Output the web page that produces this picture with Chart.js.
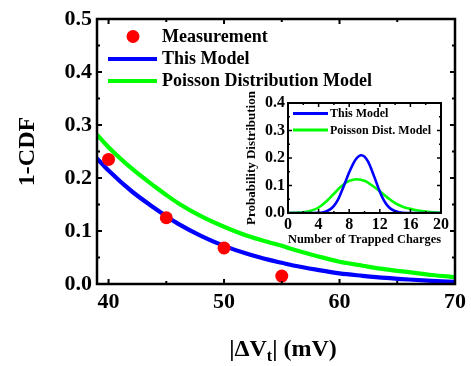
<!DOCTYPE html>
<html><head><meta charset="utf-8">
<script src="https://cdn.jsdelivr.net/npm/chart.js@4.4.0/dist/chart.umd.min.js"></script>
<style>
html,body{margin:0;padding:0;background:#fff;}
#wrap{position:relative;width:471px;height:366px;background:#fff;}
#wrap canvas{position:absolute;left:0;top:0;}
</style></head><body>
<div id="wrap"><canvas id="main" width="471" height="366"></canvas><canvas id="inset" width="471" height="366"></canvas></div>
<script>
// ---- main chart data ----
const measX = [40, 45, 50, 55];
const measY = [0.235, 0.125, 0.068, 0.015];
const modelX = [39, 40, 42, 44, 45, 46, 48, 50, 52, 54, 55, 56, 58, 60, 62, 64, 66, 68, 70];
const thisModelY = [0.237, 0.214, 0.175, 0.143, 0.128, 0.114, 0.091, 0.072, 0.057, 0.045, 0.040, 0.035, 0.027, 0.020, 0.0155, 0.0115, 0.0085, 0.006, 0.004];
const poissonY = [0.282, 0.258, 0.218, 0.184, 0.168, 0.153, 0.128, 0.108, 0.091, 0.078, 0.072, 0.065, 0.053, 0.042, 0.0345, 0.0275, 0.0225, 0.017, 0.013];
const mainXTicks = [40, 50, 60, 70];
const mainXMinor = [45, 55, 65];
const mainYTicks = [0, 0.1, 0.2, 0.3, 0.4, 0.5];
const mainYMinor = [0.05, 0.15, 0.25, 0.35, 0.45];
const seriesLabels = ['Measurement', 'This Model', 'Poisson Distribution Model'];
const xTitleParts = ['|\u0394V', 't', '| (mV)'];
const yTitle = '1-CDF';

// ---- inset data ----
const thisDistX = [0, 3, 4, 4.5, 5, 5.5, 6, 6.5, 7, 7.5, 8, 8.5, 9, 9.5, 10, 10.5, 11, 11.5, 12, 12.5, 13, 13.5, 14, 14.5, 15, 16, 20];
const thisDistY = [0, 0, 0.001, 0.002, 0.006, 0.013, 0.026, 0.047, 0.078, 0.113, 0.148, 0.178, 0.200, 0.210, 0.205, 0.185, 0.152, 0.115, 0.078, 0.048, 0.027, 0.014, 0.007, 0.003, 0.001, 0, 0];
const poissonDistX = [0, 1, 2, 3, 4, 5, 6, 7, 8, 9, 10, 11, 12, 13, 14, 15, 16, 17, 18, 19, 20];
const poissonDistY = [0, 0.001, 0.003, 0.008, 0.020, 0.042, 0.070, 0.098, 0.117, 0.123, 0.117, 0.100, 0.079, 0.056, 0.036, 0.023, 0.015, 0.009, 0.005, 0.003, 0.001];
const insetXTicks = [0, 4, 8, 12, 16, 20];
const insetXMinor = [2, 6, 10, 14, 18];
const insetYTicks = [0, 0.1, 0.2, 0.3, 0.4];
const insetYMinor = [0.05, 0.15, 0.25, 0.35];
const insetLabels = ['This Model', 'Poisson Dist. Model'];
const insetXTitle = 'Number of Trapped Charges';
const insetYTitle = 'Probability Distribution';

const FONT = '"Liberation Serif", "Times New Roman", serif';
const BLUE = '#0000ff', GREEN = '#00ff00', RED = '#ff0000';
const pts = (xs, ys) => xs.map((x, i) => ({x: x, y: ys[i]}));

function frameTicks(id, o) {
  return { id: id, afterDatasetsDraw(chart) {
    const {ctx, chartArea: a, scales: {x, y}} = chart;
    ctx.save();
    ctx.strokeStyle = '#000';
    ctx.lineWidth = o.tickW;
    ctx.beginPath();
    const xt = (vals, len) => vals.forEach(v => {
      const p = x.getPixelForValue(v);
      ctx.moveTo(p, a.bottom); ctx.lineTo(p, a.bottom - len);
      ctx.moveTo(p, a.top); ctx.lineTo(p, a.top + len);
    });
    const yt = (vals, len) => vals.forEach(v => {
      const p = y.getPixelForValue(v);
      ctx.moveTo(a.left, p); ctx.lineTo(a.left + len, p);
      ctx.moveTo(a.right, p); ctx.lineTo(a.right - len, p);
    });
    xt(o.xMaj, o.maj); xt(o.xMin, o.min);
    yt(o.yMaj, o.maj); yt(o.yMin, o.min);
    ctx.stroke();
    ctx.lineWidth = o.frameW;
    ctx.strokeRect(a.left, a.top, a.right - a.left, a.bottom - a.top);
    ctx.restore();
  }};
}

const mainDecor = { id: 'mainDecor', afterDraw(chart) {
  const ctx = chart.ctx;
  ctx.save();
  ctx.fillStyle = '#000';
  ctx.textBaseline = 'middle';
  ctx.textAlign = 'left';
  ctx.font = 'bold 18px ' + FONT;
  // legend
  ctx.fillStyle = RED;
  ctx.beginPath(); ctx.arc(133, 36.5, 6.5, 0, Math.PI * 2); ctx.fill();
  ctx.lineWidth = 4;
  ctx.strokeStyle = BLUE;
  ctx.beginPath(); ctx.moveTo(108, 59); ctx.lineTo(157, 59); ctx.stroke();
  ctx.strokeStyle = GREEN;
  ctx.beginPath(); ctx.moveTo(108, 81); ctx.lineTo(157, 81); ctx.stroke();
  ctx.fillStyle = '#000';
  ctx.fillText(seriesLabels[0], 162, 37);
  ctx.fillText(seriesLabels[1], 162, 59);
  ctx.fillText(seriesLabels[2], 162, 81);
  // x title with subscript
  ctx.textBaseline = 'alphabetic';
  const big = 'bold 24px ' + FONT, small = 'bold 16px ' + FONT;
  ctx.font = big; const w1 = ctx.measureText(xTitleParts[0]).width;
  const w3 = ctx.measureText(xTitleParts[2]).width;
  ctx.font = small; const w2 = ctx.measureText(xTitleParts[1]).width;
  let sx = 283 - (w1 + w2 + w3) / 2;
  const by = 356;
  ctx.font = big; ctx.fillText(xTitleParts[0], sx, by); sx += w1;
  ctx.font = small; ctx.fillText(xTitleParts[1], sx, by + 5); sx += w2;
  ctx.font = big; ctx.fillText(xTitleParts[2], sx, by);
  ctx.restore();
}};

new Chart(document.getElementById('main'), {
  type: 'scatter',
  data: { datasets: [
    { label: seriesLabels[0], data: pts(measX, measY), backgroundColor: RED, borderColor: RED, pointRadius: 6.5, pointBorderWidth: 0, showLine: false, order: 0 },
    { label: seriesLabels[1], data: pts(modelX, thisModelY), borderColor: BLUE, backgroundColor: BLUE, borderWidth: 4.2, pointRadius: 0, showLine: true, cubicInterpolationMode: 'monotone', order: 1 },
    { label: seriesLabels[2], data: pts(modelX, poissonY), borderColor: GREEN, backgroundColor: GREEN, borderWidth: 4.2, pointRadius: 0, showLine: true, cubicInterpolationMode: 'monotone', order: 2 }
  ]},
  options: {
    responsive: false, animation: false, devicePixelRatio: 1,
    layout: { padding: { left: 0, top: 19, right: 16, bottom: 0 } },
    plugins: { legend: { display: false }, tooltip: { enabled: false } },
    scales: {
      x: { type: 'linear', min: 39, max: 70,
        afterBuildTicks: s => { s.ticks = mainXTicks.map(v => ({value: v})); },
        afterFit: s => { s.height = 82; },
        grid: { display: false, drawTicks: false }, border: { display: false },
        ticks: { color: '#000', padding: 5, font: { family: FONT, size: 22, weight: 'bold' }, callback: v => String(v), maxRotation: 0 }
      },
      y: { type: 'linear', min: 0, max: 0.5,
        afterBuildTicks: s => { s.ticks = mainYTicks.map(v => ({value: v})); },
        afterFit: s => { s.width = 97; },
        grid: { display: false, drawTicks: false }, border: { display: false },
        ticks: { color: '#000', padding: 5, font: { family: FONT, size: 22, weight: 'bold' }, callback: v => v.toFixed(1) },
        title: { display: true, text: yTitle, color: '#000', font: { family: FONT, size: 24, weight: 'bold' }, padding: { top: 13, bottom: 0 } }
      }
    }
  },
  plugins: [frameTicks('mainFrame', { xMaj: mainXTicks, xMin: mainXMinor, yMaj: mainYTicks, yMin: mainYMinor, maj: 5, min: 3, tickW: 2, frameW: 2.5 }), mainDecor]
});

const insetDecor = { id: 'insetDecor', afterDraw(chart) {
  const ctx = chart.ctx;
  ctx.save();
  ctx.lineWidth = 3;
  ctx.strokeStyle = BLUE;
  ctx.beginPath(); ctx.moveTo(293, 113.5); ctx.lineTo(328, 113.5); ctx.stroke();
  ctx.strokeStyle = GREEN;
  ctx.beginPath(); ctx.moveTo(293, 130); ctx.lineTo(328, 130); ctx.stroke();
  ctx.fillStyle = '#000';
  ctx.textBaseline = 'middle'; ctx.textAlign = 'left';
  ctx.font = 'bold 12px ' + FONT;
  ctx.fillText(insetLabels[0], 330, 114);
  ctx.fillText(insetLabels[1], 330, 130.5);
  ctx.restore();
}};

new Chart(document.getElementById('inset'), {
  type: 'scatter',
  data: { datasets: [
    { label: insetLabels[0], data: pts(thisDistX, thisDistY), borderColor: BLUE, backgroundColor: BLUE, borderWidth: 2.6, pointRadius: 0, showLine: true, tension: 0.4 },
    { label: insetLabels[1], data: pts(poissonDistX, poissonDistY), borderColor: GREEN, backgroundColor: GREEN, borderWidth: 2.6, pointRadius: 0, showLine: true, tension: 0.4 }
  ]},
  options: {
    responsive: false, animation: false, devicePixelRatio: 1,
    layout: { padding: { left: 236, top: 103, right: 30, bottom: 113 } },
    plugins: { legend: { display: false }, tooltip: { enabled: false } },
    scales: {
      x: { type: 'linear', min: 0, max: 20,
        afterBuildTicks: s => { s.ticks = insetXTicks.map(v => ({value: v})); },
        afterFit: s => { s.height = 40; },
        grid: { display: false, drawTicks: false }, border: { display: false },
        ticks: { color: '#000', padding: 2, font: { family: FONT, size: 16, weight: 'bold' }, callback: v => String(v), maxRotation: 0 },
        title: { display: true, text: insetXTitle, color: '#000', font: { family: FONT, size: 13, weight: 'bold' }, padding: { top: 0, bottom: 6 } }
      },
      y: { type: 'linear', min: 0, max: 0.4,
        afterBuildTicks: s => { s.ticks = insetYTicks.map(v => ({value: v})); },
        afterFit: s => { s.width = 52; },
        grid: { display: false, drawTicks: false }, border: { display: false },
        ticks: { color: '#000', padding: 3, font: { family: FONT, size: 16, weight: 'bold' }, callback: v => v.toFixed(1) },
        title: { display: true, text: insetYTitle, color: '#000', font: { family: FONT, size: 13, weight: 'bold' }, padding: { top: 8, bottom: 0 } }
      }
    }
  },
  plugins: [frameTicks('insetFrame', { xMaj: insetXTicks, xMin: insetXMinor, yMaj: insetYTicks, yMin: insetYMinor, maj: 4, min: 2, tickW: 1.5, frameW: 2 }), insetDecor]
});
</script>
</body></html>
